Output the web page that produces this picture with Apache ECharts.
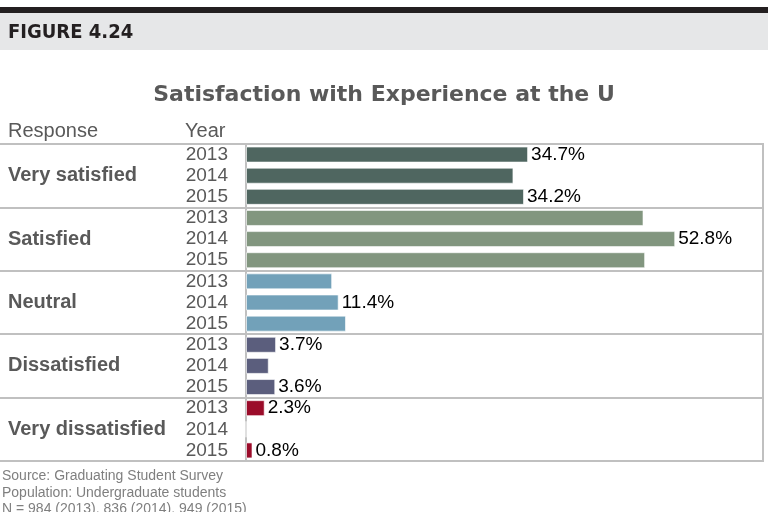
<!DOCTYPE html>
<html>
<head>
<meta charset="utf-8">
<script src="https://cdn.jsdelivr.net/npm/echarts@6/dist/echarts.min.js"></script>
<style>
  html, body { margin: 0; padding: 0; background: #fff; }
  #chart { width: 768px; height: 512px; }
</style>
</head>
<body>
<div id="chart"></div>
<script>
// categories
var responses = ['Very satisfied', 'Satisfied', 'Neutral', 'Dissatisfied', 'Very dissatisfied'];
var years = ['2013', '2014', '2015'];

// values per response (2013, 2014, 2015), percent
var verySatisfied = [34.7, 32.9, 34.2];
var satisfied = [48.9, 52.8, 49.1];
var neutral = [10.6, 11.4, 12.3];
var dissatisfied = [3.7, 2.8, 3.6];
var veryDissatisfied = [2.3, 0, 0.8];

// which bars carry a value label in the original
var labelVerySatisfied = [true, false, true];
var labelSatisfied = [false, true, false];
var labelNeutral = [false, true, false];
var labelDissatisfied = [true, false, true];
var labelVeryDissatisfied = [true, false, true];

var colors = ['#4f6660', '#82967f', '#72a1b9', '#5b5e7d', '#9b0c2a'];

var groups = [verySatisfied, satisfied, neutral, dissatisfied, veryDissatisfied];
var labelFlags = [labelVerySatisfied, labelSatisfied, labelNeutral, labelDissatisfied, labelVeryDissatisfied];

var yearCats = [];
var barData = [];
for (var g = 0; g < groups.length; g++) {
  for (var y = 0; y < years.length; y++) {
    yearCats.push(years[y]);
    barData.push({
      value: groups[g][y],
      itemStyle: { color: colors[g] },
      label: { show: labelFlags[g][y] }
    });
  }
}

var gray = '#595959';
var lineGray = '#c0c0c0';
var footFont = '14px "Liberation Sans", Arial, sans-serif';

var chart = echarts.init(document.getElementById('chart'));
chart.setOption({
  animation: false,
  title: {
    text: 'Satisfaction with Experience at the U',
    left: 'center',
    top: 79,
    textStyle: {
      fontFamily: 'DejaVu Sans',
      fontWeight: 'bold',
      fontSize: 22,
      color: gray
    }
  },
  graphic: [
    { type: 'rect', shape: { x: 0, y: 7, width: 768, height: 6 }, style: { fill: '#231f20' } },
    { type: 'rect', shape: { x: 0, y: 13, width: 768, height: 37 }, style: { fill: '#e6e7e8' } },
    { type: 'text', left: 8, top: 23, style: { text: 'FIGURE 4.24', fill: '#231f20',
      font: 'bold 20px "Liberation Sans Narrow", "DejaVu Sans Condensed", sans-serif' } },
    { type: 'text', left: 8, top: 121, style: { text: 'Response', fill: gray,
      font: '20px "Liberation Sans", Arial, sans-serif' } },
    { type: 'text', left: 185, top: 121, style: { text: 'Year', fill: gray,
      font: '20px "Liberation Sans", Arial, sans-serif' } },
    { type: 'text', left: 2, top: 469, style: { text: 'Source: Graduating Student Survey', fill: '#7f7f7f', font: footFont } },
    { type: 'text', left: 2, top: 486, style: { text: 'Population: Undergraduate students', fill: '#7f7f7f', font: footFont } },
    { type: 'text', left: 2, top: 502, style: { text: 'N = 984 (2013), 836 (2014), 949 (2015)', fill: '#7f7f7f', font: footFont } }
  ],
  grid: {
    left: 246,
    right: 5,
    top: 144,
    bottom: 51,
    show: true,
    borderColor: lineGray,
    borderWidth: 2
  },
  xAxis: {
    type: 'value',
    min: 0,
    max: 63.6,
    show: false
  },
  yAxis: [
    {
      type: 'category',
      data: yearCats,
      inverse: true,
      position: 'left',
      axisLine: { show: true, lineStyle: { color: lineGray, width: 2 } },
      axisTick: { show: false },
      splitLine: { show: false },
      axisLabel: {
        interval: 0,
        color: gray,
        fontSize: 19,
        fontFamily: 'Liberation Sans',
        margin: 18
      }
    },
    {
      type: 'category',
      data: responses,
      inverse: true,
      position: 'left',
      axisLine: { show: false },
      axisTick: { show: true, length: 246, interval: 0, lineStyle: { color: lineGray, width: 2 } },
      splitLine: { show: true, interval: 0, lineStyle: { color: lineGray, width: 2 } },
      axisLabel: {
        interval: 0,
        color: gray,
        fontSize: 20,
        fontWeight: 'bold',
        fontFamily: 'Liberation Sans',
        align: 'left',
        margin: 238,
        padding: [4, 0, 0, 0]
      }
    }
  ],
  series: [
    {
      type: 'bar',
      yAxisIndex: 0,
      data: barData,
      barWidth: 16,
      itemStyle: { borderColor: 'rgba(255,255,255,0.6)', borderWidth: 1 },
      label: {
        position: 'right',
        distance: 3,
        color: '#000',
        fontSize: 19,
        fontFamily: 'Liberation Sans',
        formatter: '{c}%'
      }
    }
  ]
});
</script>
</body>
</html>
